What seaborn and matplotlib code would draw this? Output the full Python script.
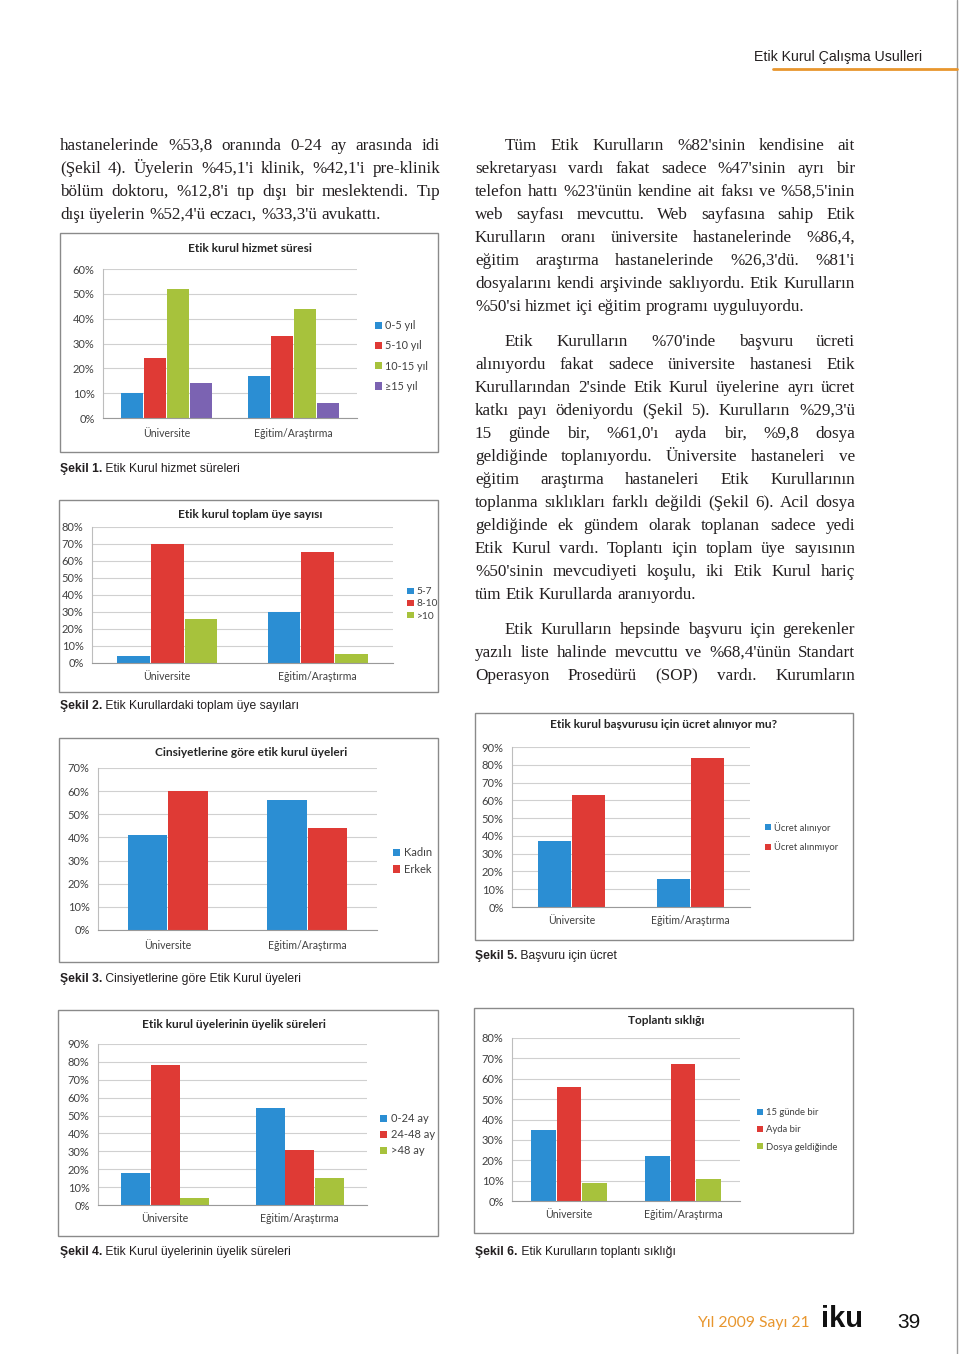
import matplotlib
matplotlib.use('Agg')
import matplotlib.pyplot as plt
import seaborn as sns
import pandas as pd
from matplotlib import font_manager
from matplotlib.patches import Rectangle
from matplotlib.lines import Line2D

W, H = 960, 1354

# ---- data ----
kurumlar = ['Üniversite', 'Eğitim/Araştırma']

hizmet_gruplar = ['0-5 yıl', '5-10 yıl', '10-15 yıl', '≥15 yıl']
hizmet_univ = [10, 24, 52, 14]
hizmet_egitim = [17, 33, 44, 6]

uye_gruplar = ['5-7', '8-10', '>10']
uye_univ = [4, 70, 26]
uye_egitim = [30, 65, 5]

cins_gruplar = ['Kadın', 'Erkek']
cins_univ = [41, 60]
cins_egitim = [56, 44]

sure_gruplar = ['0-24 ay', '24-48 ay', '>48 ay']
sure_univ = [18, 78, 4]
sure_egitim = [54, 31, 15]

ucret_gruplar = ['Ücret alınıyor', 'Ücret alınmıyor']
ucret_univ = [37, 63]
ucret_egitim = [16, 84]

toplanti_gruplar = ['15 günde bir', 'Ayda bir', 'Dosya geldiğinde']
toplanti_univ = [35, 56, 9]
toplanti_egitim = [22, 67, 11]

BLUE, RED, GREEN, PURPLE = '#2b8ed3', '#df3a35', '#a7c23c', '#7b63b2'

sol_metin = [
    "hastanelerinde %53,8 oranında 0-24 ay arasında idi",
    "(Şekil 4). Üyelerin %45,1'i klinik, %42,1'i pre-klinik",
    "bölüm doktoru, %12,8'i tıp dışı bir meslektendi. Tıp",
    "dışı üyelerin %52,4'ü eczacı, %33,3'ü avukattı.",
]
paragraf1 = [
    "Tüm Etik Kurulların %82'sinin kendisine ait",
    "sekretaryası vardı fakat sadece %47'sinin ayrı bir",
    "telefon hattı %23'ünün kendine ait faksı ve %58,5'inin",
    "web sayfası mevcuttu. Web sayfasına sahip Etik",
    "Kurulların oranı üniversite hastanelerinde %86,4,",
    "eğitim araştırma hastanelerinde %26,3'dü. %81'i",
    "dosyalarını kendi arşivinde saklıyordu. Etik Kurulların",
    "%50'si hizmet içi eğitim programı uyguluyordu.",
]
paragraf2 = [
    "Etik Kurulların %70'inde başvuru ücreti",
    "alınıyordu fakat sadece üniversite hastanesi Etik",
    "Kurullarından 2'sinde Etik Kurul üyelerine ayrı ücret",
    "katkı payı ödeniyordu (Şekil 5). Kurulların %29,3'ü",
    "15 günde bir, %61,0'ı ayda bir, %9,8 dosya",
    "geldiğinde toplanıyordu. Üniversite hastaneleri ve",
    "eğitim araştırma hastaneleri Etik Kurullarının",
    "toplanma sıklıkları farklı değildi (Şekil 6). Acil dosya",
    "geldiğinde ek gündem olarak toplanan sadece yedi",
    "Etik Kurul vardı. Toplantı için toplam üye sayısının",
    "%50'sinin mevcudiyeti koşulu, iki Etik Kurul hariç",
    "tüm Etik Kurullarda aranıyordu.",
]
paragraf3 = [
    "Etik Kurulların hepsinde başvuru için gerekenler",
    "yazılı liste halinde mevcuttu ve %68,4'ünün Standart",
    "Operasyon Prosedürü (SOP) vardı. Kurumların",
]

installed = {f.name for f in font_manager.fontManager.ttflist}
NARROW = 'Liberation Sans Narrow' if 'Liberation Sans Narrow' in installed else 'Liberation Sans'
SERIF = 'Liberation Serif'
CHART = ['Lato', 'DejaVu Sans']

sns.set_theme(style='white')
plt.rcParams['font.family'] = CHART

fig = plt.figure(figsize=(W / 100, H / 100), dpi=100)
renderer = fig.canvas.get_renderer()


def fx(x):
    return x / W


def fy(y):
    return 1 - y / H


def text_width(s, **kw):
    t = fig.text(0, 0, s, **kw)
    w = t.get_window_extent(renderer).width
    t.remove()
    return w


def put_line(s, x0, x1, yb, justify, fs=12.3, family=SERIF, color='#231f20'):
    words = s.split()
    arts = [fig.text(0, fy(yb), w, fontsize=fs, family=family, va='baseline', color=color)
            for w in words]
    widths = [a.get_window_extent(renderer).width for a in arts]
    if justify and len(words) > 1:
        gap = (x1 - x0 - sum(widths)) / (len(words) - 1)
    else:
        gap = text_width('a a', fontsize=fs, family=family) - text_width('aa', fontsize=fs, family=family)
    x = x0
    for a, w in zip(arts, widths):
        a.set_x(fx(x))
        x += w + gap


def paragraph(lines, x0, x1, y0, indent=0, last_justified=False, step=23):
    for i, s in enumerate(lines):
        last = i == len(lines) - 1
        put_line(s, x0 + (indent if i == 0 else 0), x1, y0 + i * step,
                 justify=(not last) or last_justified)


def caption(num, rest, x, y):
    t = fig.text(fx(x), fy(y), num, fontsize=8.7, family=NARROW, fontweight='bold',
                 va='center', color='#231f20')
    w = t.get_window_extent(renderer).width
    fig.text(fx(x + w), fy(y), rest, fontsize=8.7, family=NARROW, va='center', color='#231f20')


def chart(box, plot, title, title_xy, groups, univ, egitim, colors, ymax, width,
          legend_xy, legend_fs, legend_sp, xpad):
    bx0, by0, bx1, by1 = box
    fig.patches.append(Rectangle((fx(bx0), fy(by1)), (bx1 - bx0) / W, (by1 - by0) / H,
                                 transform=fig.transFigure, fill=False,
                                 edgecolor='#8a8a8a', linewidth=1.0))
    x0, y0, x1, y1 = plot
    ax = fig.add_axes([fx(x0), fy(y1), (x1 - x0) / W, (y1 - y0) / H])
    df = pd.DataFrame({
        'Kurum': [k for k in kurumlar for _ in groups],
        'Grup': groups * 2,
        'Oran': univ + egitim,
    })
    sns.barplot(data=df, x='Kurum', y='Oran', hue='Grup', hue_order=groups,
                palette=colors, width=width, gap=0.03, saturation=1,
                edgecolor='none', ax=ax)
    ax.set_ylim(0, ymax)
    ticks = list(range(0, ymax + 1, 10))
    ax.set_yticks(ticks)
    ax.set_yticklabels([f'{t}%' for t in ticks], fontsize=8, color='#404040')
    ax.tick_params(axis='y', length=0, pad=6)
    ax.tick_params(axis='x', length=0, pad=xpad, labelsize=7.6, labelcolor='#404040')
    ax.set_xlabel('')
    ax.set_ylabel('')
    ax.yaxis.grid(True, color='#d0d0d0', linewidth=0.8)
    ax.set_axisbelow(True)
    for side in ['top', 'right']:
        ax.spines[side].set_visible(False)
    ax.spines['left'].set_color('#bdbdbd')
    ax.spines['bottom'].set_color('#9a9a9a')
    ax.spines['left'].set_linewidth(0.8)
    ax.spines['bottom'].set_linewidth(0.8)
    ax.set_facecolor('none')
    handles, labels = ax.get_legend_handles_labels()
    if ax.get_legend() is not None:
        ax.get_legend().remove()
    fig.legend(handles, labels, loc='center left',
               bbox_to_anchor=(fx(legend_xy[0]), fy(legend_xy[1])),
               frameon=False, fontsize=legend_fs, handlelength=0.65, handleheight=0.65,
               handletextpad=0.3, labelspacing=legend_sp, borderpad=0, borderaxespad=0,
               labelcolor='#404040')
    fig.text(fx(title_xy[0]), fy(title_xy[1]), title, ha='center', va='center',
             fontsize=8.6, fontweight='bold', color='#262626')
    return ax


# ---- header / page frame ----
fig.add_artist(Line2D([fx(957), fx(957)], [0, 1], transform=fig.transFigure,
                      color='#9a9a9a', linewidth=1))
fig.text(fx(754), fy(57), 'Etik Kurul Çalışma Usulleri', fontsize=10.2, family=NARROW,
         va='center', color='#231f20')
fig.add_artist(Line2D([fx(773), fx(957)], [fy(69), fy(69)], transform=fig.transFigure,
                      color='#e8962e', linewidth=2))

# ---- body text ----
paragraph(sol_metin, 60, 440, 150)
paragraph(paragraf1, 475, 855, 150, indent=30)
paragraph(paragraf2, 475, 855, 346, indent=30)
paragraph(paragraf3, 475, 855, 634, indent=30, last_justified=True)

# ---- charts ----
chart((60, 233, 438, 452), (103, 269, 357, 418), 'Etik kurul hizmet süresi', (250, 248),
      hizmet_gruplar, hizmet_univ, hizmet_egitim, [BLUE, RED, GREEN, PURPLE], 60, 0.72,
      (375, 356), 7.8, 0.85, 7)
caption('Şekil 1.', ' Etik Kurul hizmet süreleri', 60, 469)

chart((59, 500, 438, 692), (92, 527, 393, 663), 'Etik kurul toplam üye sayısı', (250, 514),
      uye_gruplar, uye_univ, uye_egitim, [BLUE, RED, GREEN], 80, 0.67,
      (407, 604), 7.3, 0.3, 5.5)
caption('Şekil 2.', ' Etik Kurullardaki toplam üye sayıları', 60, 706)

chart((59, 738, 438, 962), (98, 768, 377, 930), 'Cinsiyetlerine göre etik kurul üyeleri',
      (251, 752), cins_gruplar, cins_univ, cins_egitim, [BLUE, RED], 70, 0.58,
      (393, 861), 8.0, 0.5, 7)
caption('Şekil 3.', ' Cinsiyetlerine göre Etik Kurul üyeleri', 60, 979)

chart((58, 1010, 438, 1236), (98, 1044, 367, 1205), 'Etik kurul üyelerinin üyelik süreleri',
      (234, 1025), sure_gruplar, sure_univ, sure_egitim, [BLUE, RED, GREEN], 90, 0.66,
      (380, 1135), 8.0, 0.45, 6)
caption('Şekil 4.', ' Etik Kurul üyelerinin üyelik süreleri', 60, 1252)

chart((475, 713, 853, 940), (512, 747, 750, 907), 'Etik kurul başvurusu için ücret alınıyor mu?',
      (664, 725), ucret_gruplar, ucret_univ, ucret_egitim, [BLUE, RED], 90, 0.58,
      (765, 837), 6.8, 0.95, 5.5)
caption('Şekil 5.', ' Başvuru için ücret', 475, 956)

chart((474, 1008, 853, 1233), (512, 1038, 740, 1201), 'Toplantı sıklığı', (666, 1020),
      toplanti_gruplar, toplanti_univ, toplanti_egitim, [BLUE, RED, GREEN], 80, 0.67,
      (757, 1130), 6.8, 0.85, 6)
caption('Şekil 6.', ' Etik Kurulların toplantı sıklığı', 475, 1252)

# ---- footer ----
fig.text(fx(697), fy(1327), 'Yıl 2009 Sayı 21', fontsize=11.3, family='Lato',
         color='#e8962e', va='baseline')
fig.text(fx(821), fy(1327), 'iku', fontsize=21, family=NARROW, fontweight='bold',
         color='#111111', va='baseline')
fig.text(fx(897), fy(1328), '39', fontsize=15, family='Liberation Sans', color='#111111',
         va='baseline')

fig.savefig('out.png', dpi=100, facecolor='white')
